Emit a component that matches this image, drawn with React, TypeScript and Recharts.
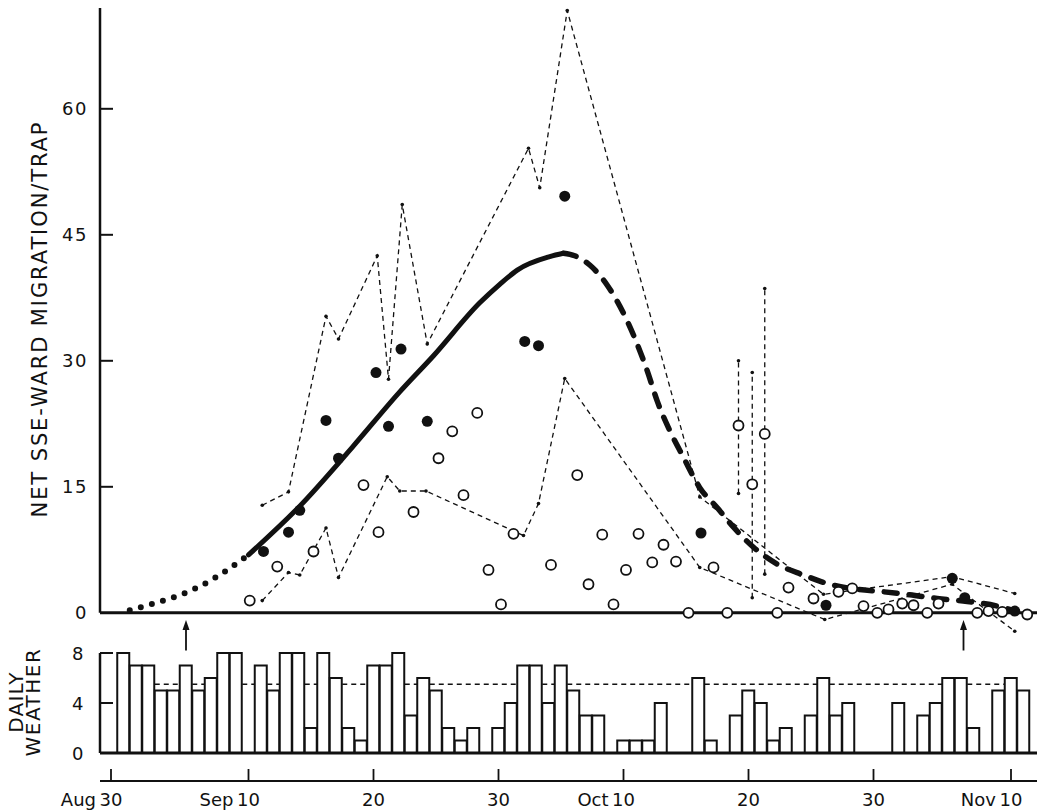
import { ComposedChart, Line, Scatter, Bar, XAxis, YAxis, ReferenceLine } from 'recharts'

const FONT = '"DejaVu Sans", sans-serif'
const INK = '#111'

// x = days counted from Aug 30 (day 0)
const X_MIN = -0.88
const X_MAX = 74.08

const tickDays = [0, 11, 21, 31, 41, 51, 61, 72]
const tickMonths = ['Aug', 'Sep', '', '', 'Oct', '', '', 'Nov']
const tickNums = ['30', '10', '20', '30', '10', '20', '30', '10']

// fitted migration curve (dotted, solid, then dashed)
const curveDays = [1.5, 3.5, 5.5, 7.3, 9.3, 11.0, 15.1, 19.3, 23.1, 25.8, 29.5, 31.1, 32.5, 35.1, 36.2,
  37.1, 38.3, 39.7, 42.9, 43.7, 44.7, 45.8, 47.1, 48.5, 49.8, 51.4, 53.3, 55.4, 57.5, 59.7, 61.8,
  63.9, 66.1, 68.5, 70.9, 71.9]
const curveValues = [0.3, 1.15, 2.1, 3.3, 5.1, 6.9, 12.7, 19.7, 26.3, 30.6, 36.9, 39.1, 40.8, 42.4, 42.8,
  42.5, 41.4, 39.0, 28.8, 25.2, 21.7, 18.5, 14.9, 12.5, 10.2, 7.8, 5.8, 4.5, 3.4, 2.8, 2.5,
  2.15, 1.7, 1.35, 0.8, 0.4]

const filledDays = [12.2, 14.2, 15.1, 17.2, 18.2, 21.2, 22.2, 23.2, 25.3, 33.1, 34.2, 36.3, 47.2, 57.2, 67.3, 68.3, 72.3]
const filledValues = [7.3, 9.6, 12.2, 22.9, 18.4, 28.6, 22.2, 31.4, 22.8, 32.3, 31.8, 49.6, 9.5, 0.9, 4.1, 1.8, 0.2]

const openDays = [11.1, 13.3, 16.2, 20.2, 21.4, 24.2, 26.2, 27.3, 28.2, 29.3, 30.2, 31.2, 32.2, 35.2, 37.3,
  38.2, 39.3, 40.2, 41.2, 42.2, 43.3, 44.2, 45.2, 46.2, 48.2, 49.3, 50.2, 51.3, 52.3, 53.3,
  54.2, 56.2, 58.2, 59.3, 60.2, 61.3, 62.2, 63.3, 64.2, 65.3, 66.2, 69.3, 70.2, 71.3, 73.3]
const openValues = [1.45, 5.5, 7.3, 15.2, 9.6, 12.0, 18.4, 21.6, 14.0, 23.8, 5.1, 1.0, 9.4, 5.7, 16.4,
  3.4, 9.3, 1.0, 5.1, 9.4, 6.0, 8.1, 6.1, 0, 5.4, 0, 22.3, 15.3, 21.3, 0,
  3.0, 1.7, 2.5, 2.9, 0.8, 0, 0.4, 1.1, 0.9, 0, 1.1, 0, 0.2, 0.1, -0.2]

const upperDays = [12.1, 14.2, 17.2, 18.2, 21.3, 22.2, 23.3, 25.3, 33.4, 34.3, 36.5, 47.1, 57.0, 67.3, 72.3]
const upperValues = [12.8, 14.4, 35.3, 32.6, 42.5, 27.8, 48.6, 32.0, 55.3, 50.6, 71.7, 13.8, 2.2, 4.3, 2.3]

const lowerDays = [12.1, 14.2, 15.1, 17.2, 18.2, 22.1, 23.1, 25.2, 33.0, 34.2, 36.3, 47.1, 57.1, 67.3, 72.3]
const lowerValues = [1.45, 4.8, 4.5, 10.1, 4.2, 16.2, 14.5, 14.5, 9.2, 13.0, 27.9, 5.4, -0.8, 3.4, -2.2]

const rangeDays = [50.2, 51.3, 52.3]
const rangeLows = [14.2, 1.8, 4.6]
const rangeHighs = [30.0, 28.6, 38.6]

// daily weather score, index = day from Aug 30 (null = no bar)
const weatherValues = [null, 8, 7, 7, 5, 5, 7, 5, 6, 8, 8, null, 7, 5, 8, 8, 2, 8, 6, 2, 1, 7, 7, 8, 3, 6, 5, 2, 1, 2,
  null, 2, 4, 7, 7, 4, 7, 5, 3, 3, null, 1, 1, 1, 4, null, null, 6, 1, null, 3, 5, 4, 1, 2, null, 3, 6, 3, 4,
  null, null, null, 4, null, 3, 4, 6, 6, 2, null, 5, 6, 5]
const WEATHER_MEAN = 5.5
const arrowDays = [6.0, 68.2]

const pts = (days: number[], values: number[]) => days.map((d, i) => ({ d, v: values[i] }))

const curve = pts(curveDays, curveValues)
const curveDotted = curve.filter((p) => p.d <= 11.0)
const curveSolid = curve.filter((p) => p.d >= 11.0 && p.d <= 36.2)
const curveDashed = curve.filter((p) => p.d >= 36.2)

const weatherRows = weatherValues.map((w, d) => ({ d, w }))
const meanRows: { d: number; m: number | null }[] = []
for (let d = 4; d <= 71; d++) {
  const w = weatherValues[d]
  if (w === null || w < WEATHER_MEAN) meanRows.push({ d: d - 0.5, m: WEATHER_MEAN }, { d: d + 0.5, m: WEATHER_MEAN })
  else meanRows.push({ d, m: null })
}

const InTick = (props: any) => {
  const { x, y, payload, gap } = props
  const ax = x + gap
  return (
    <g>
      {payload.value !== 0 && <line x1={ax} x2={ax + 13} y1={y} y2={y} stroke={INK} strokeWidth={2} />}
      <text x={x} y={y} dy={6.5} textAnchor="end" fontSize={18} fontFamily={FONT} letterSpacing={1.5} fill={INK}>
        {payload.value}
      </text>
    </g>
  )
}

const DateTick = (props: any) => {
  const { x, y, payload } = props
  const i = tickDays.indexOf(payload.value)
  return (
    <g>
      <line x1={x} x2={x} y1={y} y2={y - 12} stroke={INK} strokeWidth={1.8} />
      <text x={x} y={y + 25} textAnchor="middle" fontSize={18} fontFamily={FONT} fill={INK}>{tickNums[i]}</text>
      {tickMonths[i] && (
        <text x={x - 15} y={y + 25} textAnchor="end" fontSize={18} fontFamily={FONT} fill={INK}>{tickMonths[i]}</text>
      )}
    </g>
  )
}

const UpperTitle = () => (
  <text x={40} y={319} transform="rotate(-90 40 319)" textAnchor="middle" dominantBaseline="central"
    fontSize={21} fontFamily={FONT} letterSpacing={1.9} fill={INK}>
    NET SSE-WARD MIGRATION/TRAP
  </text>
)

const LowerTitle = () => (
  <g fontSize={20} fontFamily={FONT} fill={INK}>
    <text x={16} y={102} transform="rotate(-90 16 102)" textAnchor="middle" dominantBaseline="central" letterSpacing={1.2}>DAILY</text>
    <text x={33} y={102} transform="rotate(-90 33 102)" textAnchor="middle" dominantBaseline="central" letterSpacing={1.5}>WEATHER</text>
  </g>
)

const OpenDot = (p: any) => <circle cx={p.cx} cy={p.cy} r={5} fill="#fff" stroke={INK} strokeWidth={1.8} />
const FilledDot = (p: any) => <circle cx={p.cx} cy={p.cy} r={5.5} fill={INK} />

const ArrowShape = (p: any) => {
  const top = Math.min(p.y1, p.y2)
  const bottom = Math.max(p.y1, p.y2)
  return (
    <g>
      <line x1={p.x1} x2={p.x1} y1={bottom} y2={top + 6} stroke={INK} strokeWidth={1.8} />
      <path d={`M${p.x1 - 3.5},${top + 10} L${p.x1},${top} L${p.x1 + 3.5},${top + 10} Z`} fill={INK} />
    </g>
  )
}

const thinDash = { stroke: INK, strokeWidth: 1.3, strokeDasharray: '5 4', type: 'linear' as const, isAnimationActive: false }
const smallDot = { r: 1.8, fill: INK, stroke: 'none' }

export default function App() {
  return (
    <div style={{ position: 'absolute', left: 0, top: 0, width: 1043, height: 812, background: '#fff' }}>
      <div style={{ position: 'absolute', left: 0, top: 0 }}>
        <ComposedChart width={1043} height={640} margin={{ top: 8, right: 6, bottom: 2, left: 0 }}>
          <XAxis type="number" dataKey="d" domain={[X_MIN, X_MAX]} hide />
          <YAxis type="number" domain={[-3, 72]} ticks={[0, 15, 30, 45, 60]} interval={0} width={100}
            axisLine={false} tickLine={false} tickSize={0} tickMargin={12}
            tick={(p: any) => <InTick {...p} gap={12} />}
            label={{ content: () => <UpperTitle /> }} />
          <Line data={[{ d: X_MIN, v: 0 }, { d: X_MIN, v: 72 }]} dataKey="v" type="linear" stroke={INK} strokeWidth={2.5} dot={false} isAnimationActive={false} />
          <Line data={[{ d: X_MIN, v: 0 }, { d: X_MAX, v: 0 }]} dataKey="v" type="linear" stroke={INK} strokeWidth={3} dot={false} isAnimationActive={false} />
          <Line data={pts(upperDays, upperValues)} dataKey="v" {...thinDash} dot={smallDot} />
          <Line data={pts(lowerDays, lowerValues)} dataKey="v" {...thinDash} dot={smallDot} />
          {rangeDays.map((d, i) => (
            <Line key={`range-${i}`} data={[{ d, v: rangeLows[i] }, { d, v: rangeHighs[i] }]} dataKey="v" {...thinDash} dot={smallDot} />
          ))}
          <Line data={curveDotted} dataKey="v" type="monotone" stroke={INK} strokeWidth={6} strokeDasharray="0 11.5" strokeLinecap="round" dot={false} isAnimationActive={false} />
          <Line data={curveSolid} dataKey="v" type="monotone" stroke={INK} strokeWidth={5} strokeLinecap="round" dot={false} isAnimationActive={false} />
          <Line data={curveDashed} dataKey="v" type="monotone" stroke={INK} strokeWidth={5.5} strokeDasharray="13 12" strokeLinecap="round" dot={false} isAnimationActive={false} />
          <Scatter data={pts(openDays, openValues)} dataKey="v" shape={OpenDot} isAnimationActive={false} />
          <Scatter data={pts(filledDays, filledValues)} dataKey="v" shape={FilledDot} isAnimationActive={false} />
        </ComposedChart>
      </div>
      <div style={{ position: 'absolute', left: 0, top: 600 }}>
        <ComposedChart width={1043} height={212} data={weatherRows} barCategoryGap={0} barGap={0}
          margin={{ top: 14.5, right: 6, bottom: 0, left: 0 }}>
          <XAxis xAxisId="date" type="number" dataKey="d" domain={[X_MIN, X_MAX]} ticks={tickDays} interval={0}
            height={31} axisLine={{ stroke: INK, strokeWidth: 2 }} tickLine={false} tickSize={0} tickMargin={0}
            tick={(p: any) => <DateTick {...p} />} />
          <XAxis xAxisId="bars" type="number" dataKey="d" domain={[X_MIN, X_MAX]} height={0} hide />
          <YAxis type="number" domain={[-2.24, 11.08]} ticks={[0, 4, 8]} interval={0} width={100}
            axisLine={false} tickLine={false} tickSize={0} tickMargin={15}
            tick={(p: any) => <InTick {...p} gap={15} />}
            label={{ content: () => <LowerTitle /> }} />
          <Line xAxisId="date" data={meanRows} dataKey="m" type="linear" stroke={INK} strokeWidth={1.3} strokeDasharray="5 4" dot={false} connectNulls={false} isAnimationActive={false} />
          <Bar xAxisId="bars" dataKey="w" fill="#fff" stroke={INK} strokeWidth={2} isAnimationActive={false} />
          <Line xAxisId="date" data={[{ d: X_MIN, w: 0 }, { d: X_MIN, w: 8 }]} dataKey="w" type="linear" stroke={INK} strokeWidth={2.5} dot={false} isAnimationActive={false} />
          <Line xAxisId="date" data={[{ d: X_MIN, w: 0 }, { d: X_MAX, w: 0 }]} dataKey="w" type="linear" stroke={INK} strokeWidth={3} dot={false} isAnimationActive={false} />
          {arrowDays.map((d, i) => (
            <ReferenceLine key={`arrow-${i}`} xAxisId="date" segment={[{ x: d, y: 8.2 }, { x: d, y: 10.64 }]} shape={ArrowShape} />
          ))}
        </ComposedChart>
      </div>
    </div>
  )
}
